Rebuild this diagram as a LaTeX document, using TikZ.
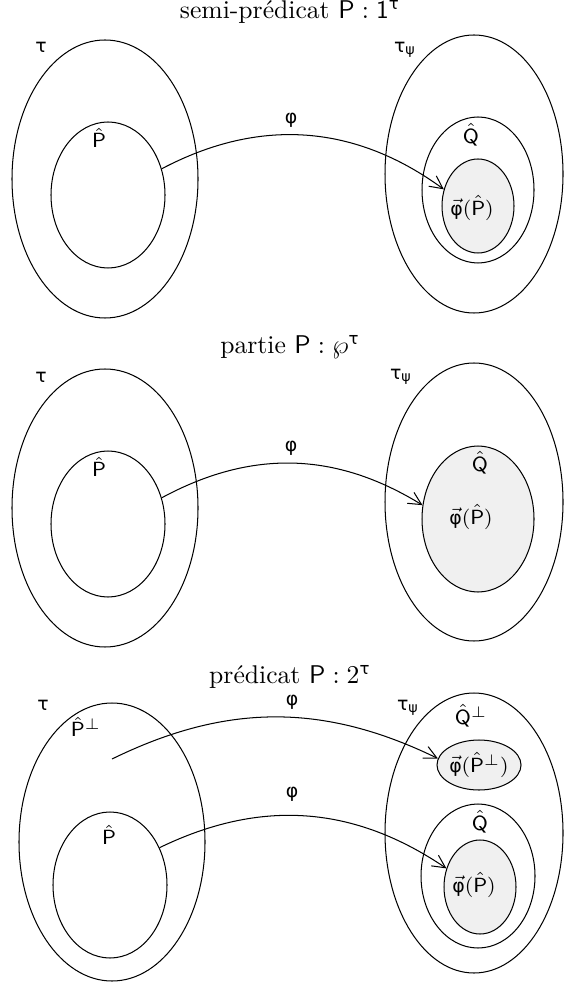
\documentclass[tikz,border=0pt]{standalone}
\usepackage{fontspec}
\usepackage{amsmath}
\usepackage{tikz}
\usetikzlibrary{shapes.geometric, arrows.meta}
\newfontfamily\gkfont{DejaVu Sans}[Scale=0.92]
\newcommand{\gk}[1]{\text{\gkfont #1}}
\newcommand{\Ph}{\hat{\mathsf{P}}}
\newcommand{\Qh}{\hat{\mathsf{Q}}}
\newcommand{\phivec}{\vec{\gk{φ}}}
\tikzset{
  setbox/.style 2 args={ellipse, draw, inner sep=0pt, font=\footnotesize,
    minimum width=#1*0.78pt, minimum height=#2*0.78pt},
  imgbox/.style 2 args={setbox={#1}{#2}, fill=gray!12},
  lbl/.style={font=\footnotesize, inner sep=0pt},
  heading/.style={font=\normalsize, inner sep=0pt},
  maparrow/.style={-{Straight Barb[length=5pt,width=5pt]}, thin},
}

\begin{document}
\begin{tikzpicture}[x=0.39pt, y=-0.39pt]
  \useasboundingbox (0,0) rectangle (564,985);

  \node[heading] (h1) at (290,12) {semi-prédicat $\mathsf{P}:\mathsf{1}^{\gk{τ}}$};
  \node[setbox={93}{139}] (tau1) at (105,179) {};
  \node[setbox={57}{73}] (pin1) at (108,195) {};
  \node[setbox={89}{139}] (tpsi1) at (474,174) {};
  \node[setbox={56}{73}] (q1) at (478,190) {};
  \node[imgbox={36}{47}] (img1) at (478,206) {};
  \node[lbl] (ltau1) at (41,47) {\gk{τ}};
  \node[lbl] (ltpsi1) at (405,50) {$\gk{τ}_{\gk{ψ}}$};
  \node[lbl] (lp1) at (99,138) {$\Ph$};
  \node[lbl] (lq1) at (471,135) {$\Qh$};
  \node[lbl] (limg1) at (472,208) {$\phivec(\Ph)$};
  \node[lbl] (lphi1) at (291,120) {\gk{φ}};
  \draw[maparrow] (pin1.26) to[bend left=32] (img1.154);

  \node[heading] (h2) at (290,347) {partie $\mathsf{P}:\wp^{\gk{τ}}$};
  \node[setbox={93}{139}] (tau2) at (105,508) {};
  \node[setbox={57}{73}] (pin2) at (108,524) {};
  \node[setbox={89}{139}] (tpsi2) at (474,502) {};
  \node[imgbox={56}{73}] (img2) at (478,519) {};
  \node[lbl] (ltau2) at (41,377) {\gk{τ}};
  \node[lbl] (ltpsi2) at (401,377) {$\gk{τ}_{\gk{ψ}}$};
  \node[lbl] (lp2) at (99,467) {$\Ph$};
  \node[lbl] (lq2) at (480,463) {$\Qh$};
  \node[lbl] (limg2) at (471,517) {$\phivec(\Ph)$};
  \node[lbl] (lphi2) at (291,448) {\gk{φ}};
  \draw[maparrow] (pin2.26) to[bend left=30] (img2.166);

  \node[heading] (h3) at (290,677) {prédicat $\mathsf{P}:2^{\gk{τ}}$};
  \node[setbox={93}{139}] (tau3) at (112,842) {};
  \node[setbox={57}{73}] (pin3) at (110,885) {};
  \coordinate (pperp) at (112,759);
  \node[setbox={89}{140}] (tpsi3) at (474,833) {};
  \node[imgbox={42}{25}] (imgperp) at (479,765) {$\phivec(\Ph^{\perp})$};
  \node[setbox={57}{72}] (q3) at (478,876) {};
  \node[imgbox={36}{47}] (img3) at (480,887) {};
  \node[lbl] (ltau3) at (43,705) {\gk{τ}};
  \node[lbl] (ltpsi3) at (408,708) {$\gk{τ}_{\gk{ψ}}$};
  \node[lbl] (lpperp) at (86,727) {$\Ph^{\perp}$};
  \node[lbl] (lp3) at (109,835) {$\Ph$};
  \node[lbl] (lqperp) at (471,716) {$\Qh^{\perp}$};
  \node[lbl] (lq3) at (480,822) {$\Qh$};
  \node[lbl] (limg3) at (474,885) {$\phivec(\Ph)$};
  \node[lbl] (lphi3) at (292,702) {\gk{φ}};
  \node[lbl] (lphi4) at (292,794) {\gk{φ}};
  \draw[maparrow] (pperp) to[bend left=26] (imgperp.171);
  \draw[maparrow] (pin3.37) to[bend left=30] (img3.151);
\end{tikzpicture}
\end{document}
